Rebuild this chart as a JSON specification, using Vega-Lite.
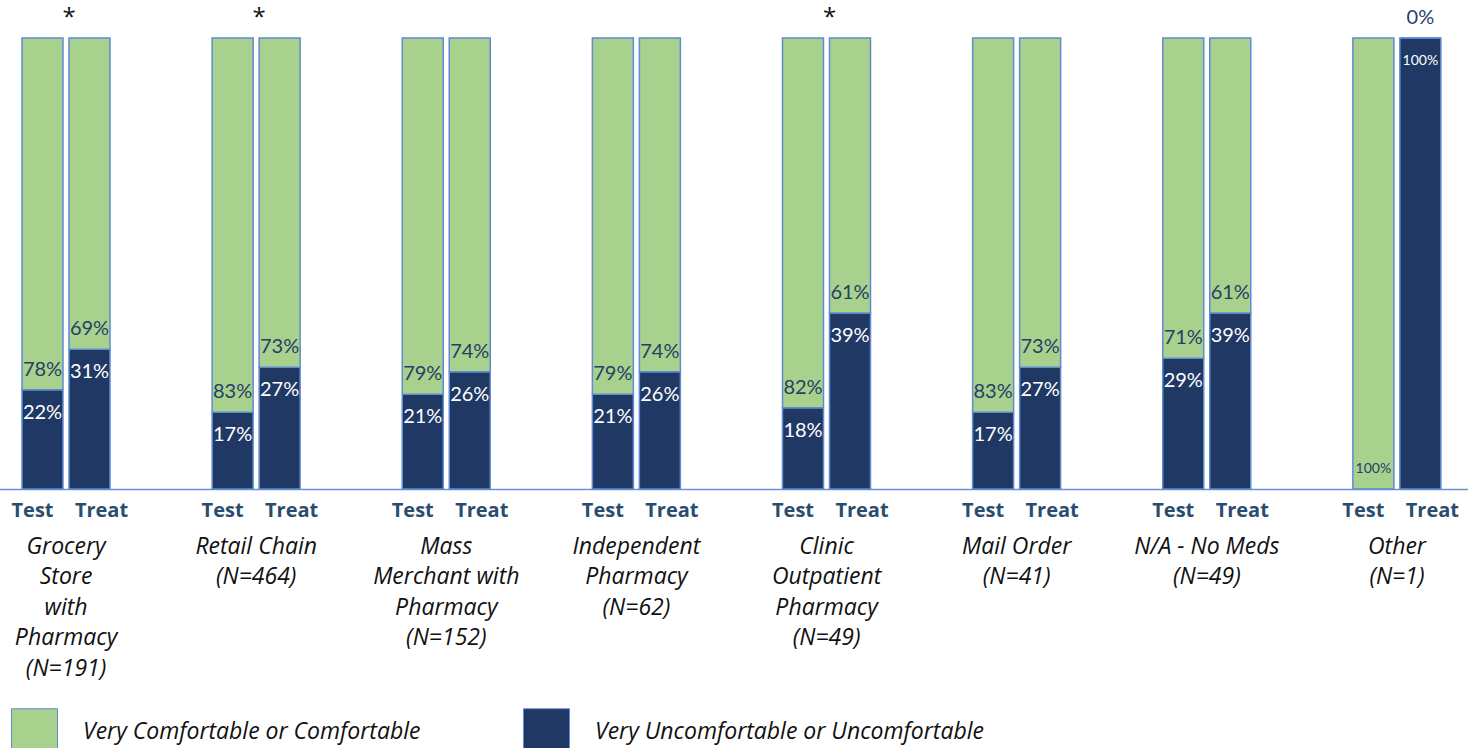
{
  "$schema": "https://vega.github.io/schema/vega-lite/v6.json",
  "width": 1468,
  "height": 451,
  "autosize": "none",
  "padding": {"top": 38, "left": 0, "right": 0, "bottom": 259},
  "background": "white",
  "config": {"view": {"stroke": null}},
  "datasets": {
    "bars": [
      {"group": "Grocery|Store|with|Pharmacy|(N=191)", "arm": "Test", "unc": 0.22, "com": 0.78},
      {"group": "Grocery|Store|with|Pharmacy|(N=191)", "arm": "Treat", "unc": 0.31, "com": 0.69},
      {"group": "Retail Chain|(N=464)", "arm": "Test", "unc": 0.17, "com": 0.83},
      {"group": "Retail Chain|(N=464)", "arm": "Treat", "unc": 0.27, "com": 0.73},
      {"group": "Mass|Merchant with|Pharmacy|(N=152)", "arm": "Test", "unc": 0.21, "com": 0.79},
      {"group": "Mass|Merchant with|Pharmacy|(N=152)", "arm": "Treat", "unc": 0.26, "com": 0.74},
      {"group": "Independent|Pharmacy|(N=62)", "arm": "Test", "unc": 0.21, "com": 0.79},
      {"group": "Independent|Pharmacy|(N=62)", "arm": "Treat", "unc": 0.26, "com": 0.74},
      {"group": "Clinic|Outpatient|Pharmacy|(N=49)", "arm": "Test", "unc": 0.18, "com": 0.82},
      {"group": "Clinic|Outpatient|Pharmacy|(N=49)", "arm": "Treat", "unc": 0.39, "com": 0.61},
      {"group": "Mail Order|(N=41)", "arm": "Test", "unc": 0.17, "com": 0.83},
      {"group": "Mail Order|(N=41)", "arm": "Treat", "unc": 0.27, "com": 0.73},
      {"group": "N/A - No Meds|(N=49)", "arm": "Test", "unc": 0.29, "com": 0.71},
      {"group": "N/A - No Meds|(N=49)", "arm": "Treat", "unc": 0.39, "com": 0.61},
      {"group": "Other|(N=1)", "arm": "Test", "unc": 0.0, "com": 1.0},
      {"group": "Other|(N=1)", "arm": "Treat", "unc": 1.0, "com": 0.0}
    ],
    "significance": [
      {"group": "Grocery|Store|with|Pharmacy|(N=191)", "mark": "*"},
      {"group": "Retail Chain|(N=464)", "mark": "*"},
      {"group": "Clinic|Outpatient|Pharmacy|(N=49)", "mark": "*"}
    ]
  },
  "data": {"name": "bars"},
  "encoding": {
    "x": {
      "field": "group",
      "type": "nominal",
      "sort": null,
      "scale": {"range": [-29, 1492], "paddingInner": 0, "paddingOuter": 0},
      "axis": {
        "title": null,
        "ticks": false,
        "domainColor": "#6A92D4",
        "domainWidth": 1.5,
        "labelExpr": "split(datum.label, '|')",
        "labelFont": "Open Sans",
        "labelFontStyle": "italic",
        "labelFontSize": 23,
        "labelColor": "#111111",
        "labelLineHeight": 30.5,
        "labelBaseline": "top",
        "labelPadding": 46,
        "labelAngle": 0,
        "labelLimit": 400,
        "labelOverlap": false,
        "labelBound": false,
        "labelFlush": false
      }
    },
    "xOffset": {
      "field": "arm",
      "type": "nominal",
      "scale": {"domain": ["Test", "Treat"], "range": [51, 139], "paddingInner": 0.1277, "paddingOuter": 0}
    }
  },
  "layer": [
    {
      "mark": {"type": "bar", "stroke": "#5F8BD2", "strokeWidth": 1.5},
      "encoding": {
        "y": {"field": "unc", "type": "quantitative", "scale": {"domain": [0, 1], "nice": false}, "axis": null},
        "y2": {"datum": 0},
        "color": {
          "datum": "Very Uncomfortable or Uncomfortable",
          "type": "nominal",
          "scale": {
            "domain": ["Very Comfortable or Comfortable", "Very Uncomfortable or Uncomfortable"],
            "range": ["#A9D18E", "#203864"]
          },
          "legend": {
            "title": null,
            "orient": "none",
            "legendX": 11,
            "legendY": 670,
            "direction": "horizontal",
            "columns": 2,
            "columnPadding": 100,
            "padding": 0,
            "symbolType": "square",
            "symbolSize": 2116,
            "symbolStrokeColor": "#1a1a1a",
            "symbolStrokeWidth": 1,
            "labelFont": "Open Sans",
            "labelFontStyle": "italic",
            "labelFontSize": 23,
            "labelColor": "#111111",
            "labelOffset": 25,
            "labelLimit": 500
          }
        }
      }
    },
    {
      "mark": {"type": "bar", "stroke": "#5F8BD2", "strokeWidth": 1.5},
      "encoding": {
        "y": {"field": "unc", "type": "quantitative"},
        "y2": {"datum": 1},
        "color": {"datum": "Very Comfortable or Comfortable", "type": "nominal"}
      }
    },
    {
      "transform": [{"filter": "datum.unc > 0"}],
      "mark": {"type": "text", "font": "Lato", "baseline": "middle", "align": "center", "dy": 23, "color": "white"},
      "encoding": {
        "y": {"field": "unc", "type": "quantitative"},
        "text": {"field": "unc", "type": "quantitative", "format": ".0%"},
        "size": {"condition": {"test": "datum.unc === 1", "value": 14}, "value": 20}
      }
    },
    {
      "mark": {"type": "text", "font": "Lato", "baseline": "middle", "align": "center", "dy": -20, "color": "#263F66"},
      "encoding": {
        "y": {"field": "unc", "type": "quantitative"},
        "text": {"field": "com", "type": "quantitative", "format": ".0%"},
        "size": {"condition": {"test": "datum.com === 1", "value": 14}, "value": 20}
      }
    },
    {
      "transform": [{"filter": "datum.arm === 'Test'"}],
      "mark": {"type": "text", "font": "Open Sans", "fontWeight": "bold", "fontSize": 20, "baseline": "middle", "align": "center", "dy": 22, "dx": -10, "color": "#2A4D6E"},
      "encoding": {
        "y": {"datum": 0},
        "text": {"field": "arm", "type": "nominal"}
      }
    },
    {
      "transform": [{"filter": "datum.arm === 'Treat'"}],
      "mark": {"type": "text", "font": "Open Sans", "fontWeight": "bold", "fontSize": 20, "baseline": "middle", "align": "center", "dy": 22, "dx": 12, "color": "#2A4D6E"},
      "encoding": {
        "y": {"datum": 0},
        "text": {"field": "arm", "type": "nominal"}
      }
    },
    {
      "data": {"name": "significance"},
      "mark": {"type": "text", "font": "Open Sans", "fontSize": 24, "baseline": "middle", "align": "center", "dy": -20, "dx": 3, "color": "#111111"},
      "encoding": {
        "xOffset": null,
        "y": {"datum": 1},
        "text": {"field": "mark", "type": "nominal"}
      }
    }
  ]
}
